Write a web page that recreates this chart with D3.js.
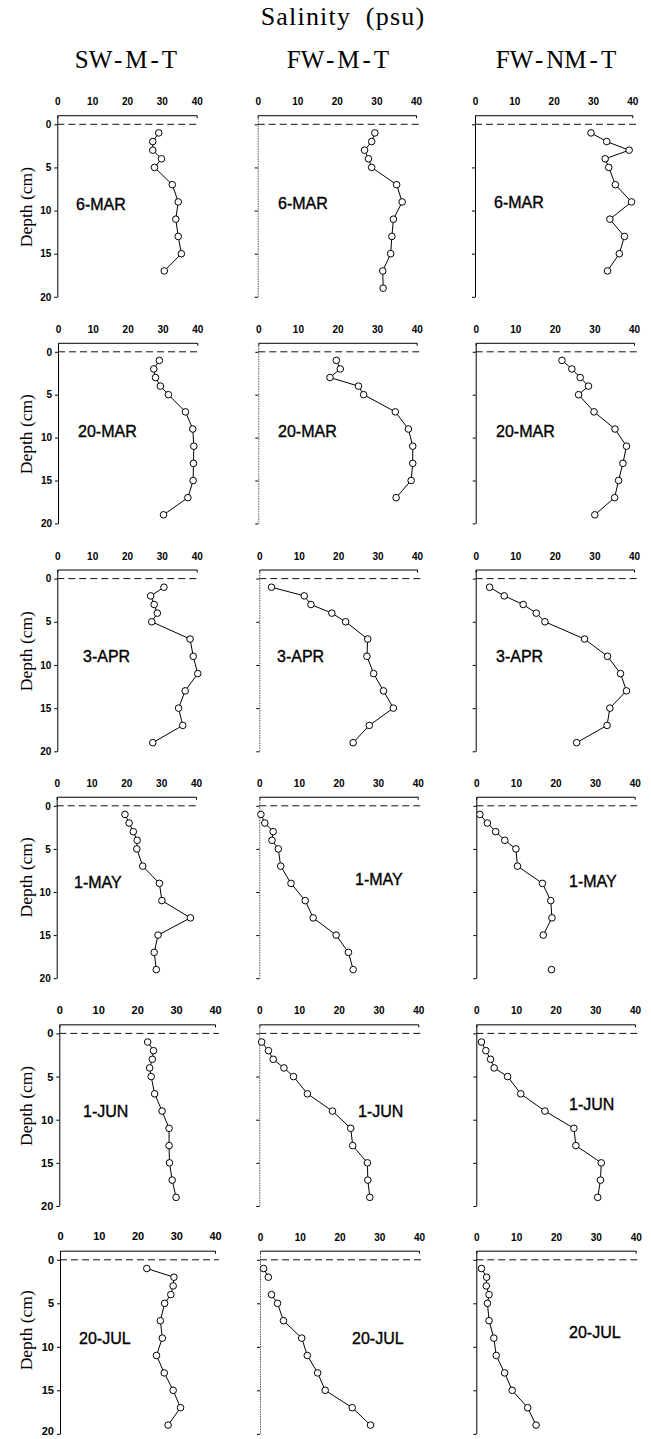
<!DOCTYPE html>
<html>
<head>
<meta charset="utf-8">
<script src="https://cdn.jsdelivr.net/npm/d3@7"></script>
<style>
  html, body { margin: 0; padding: 0; background: #fff; }
  svg { display: block; }
</style>
</head>
<body>
<svg id="chart" width="651" height="1439"></svg>
<script>
// ---- data -------------------------------------------------------------
const sites = ["SW-M-T", "FW-M-T", "FW-NM-T"];
const dates = ["6-MAR", "20-MAR", "3-APR", "1-MAY", "1-JUN", "20-JUL"];
const depths = [1, 2, 3, 4, 5, 7, 9, 11, 13, 15, 17, 19];          // cm
const salinityTicks = [0, 10, 20, 30, 40];                         // psu
const depthTicks = [0, 5, 10, 15, 20];                             // cm

// salinity (psu) at each depth, one profile per sampling date; null = no sample
const salSWMT = [
  [29.1, 27.4, 27.4, 29.9, 27.9, 33.0, 34.7, 34.0, 34.7, 35.6, 30.7, null],
  [29.1, 27.5, 28.0, 29.4, 31.7, 36.6, 38.7, 39.0, 38.9, 38.8, 37.3, 30.3],
  [30.6, 26.8, 27.8, 28.7, 27.1, 38.1, 39.0, 40.3, 36.7, 34.8, 36.0, 27.4],
  [19.6, 20.8, 22.0, 23.1, 23.0, 24.7, 29.5, 30.2, 38.4, 29.1, 28.0, 28.6],
  [22.7, 24.2, 23.9, 23.2, 23.6, 24.5, 26.4, 28.2, 28.2, 28.3, 29.0, 30.0],
  [22.4, 29.4, 29.2, 28.6, 27.0, 25.9, 26.4, 24.9, 26.9, 29.2, 31.1, 27.9]
];
const salFWMT = [
  [29.6, 28.8, 27.0, 28.0, 28.8, 35.1, 36.5, 34.3, 33.9, 33.6, 31.6, 31.7],
  [19.7, 20.7, 18.1, 25.3, 26.6, 34.6, 37.9, 39.0, 39.0, 38.6, 34.8, null],
  [3.1, 11.4, 13.1, 18.4, 21.9, 27.5, 27.3, 29.0, 31.5, 34.0, 27.9, 23.8],
  [0.4, 1.4, 3.5, 3.2, 4.8, 5.4, 8.0, 11.6, 13.6, 19.4, 22.5, 23.7],
  [0.6, 2.3, 3.5, 6.2, 8.6, 12.1, 18.4, 23.0, 23.5, 27.2, 27.3, 27.8],
  [0.9, 2.1, null, 2.9, 4.4, 5.9, 10.5, 11.9, 14.5, 16.4, 23.2, 27.8]
];
const salFWNMT = [
  [29.5, 33.5, 39.2, 33.1, 34.0, 35.7, 39.8, 34.3, 38.0, 36.7, 33.7, null],
  [21.8, 24.3, 26.4, 28.5, 26.0, 29.9, 35.2, 38.1, 37.2, 36.1, 35.1, 30.1],
  [3.5, 7.2, 12.0, 15.3, 17.5, 27.5, 33.3, 36.6, 38.1, 33.9, 33.2, 25.5],
  [0.9, 2.8, 4.9, 7.2, 10.0, 10.4, 16.7, 18.8, 19.1, 16.9, null, 19.0],
  [1.3, 2.4, 3.6, 4.5, 7.9, 11.2, 17.3, 24.6, 25.1, 31.5, 31.3, 30.6],
  [1.3, 2.6, 2.5, 3.2, 2.8, 3.2, 4.4, 5.0, 7.1, 9.0, 12.9, 15.0]
];
const profilesBySite = [salSWMT, salFWMT, salFWNMT];

// ---- layout -----------------------------------------------------------
// horizontal extent of each panel: [x at 0 psu, x at 40 psu], per row and column
const panelX = [
  [[57.3, 196.7], [257.7, 416.0], [475.0, 632.3]],
  [[58.0, 197.3], [258.3, 416.7], [475.7, 634.0]],
  [[57.3, 196.7], [259.3, 417.0], [475.7, 634.0]],
  [[56.7, 196.0], [259.3, 417.7], [476.3, 634.7]],
  [[59.3, 215.0], [259.3, 418.3], [476.3, 635.0]],
  [[60.0, 215.0], [260.0, 419.0], [476.3, 635.7]]
];
// vertical extent of each row: [y at 0 cm, y at 20 cm]
const panelY = [
  [124.3, 296.8],
  [351.8, 523.4],
  [578.6, 751.3],
  [805.8, 978.2],
  [1033.4, 1206.0],
  [1259.8, 1433.8]
];
// date label anchor (left, baseline) per row and column
const dateLabelPos = [
  [[76, 210], [278, 208.5], [494, 208.3]],
  [[78, 436.7], [278, 436.7], [496, 436.7]],
  [[83, 661.7], [277, 661.7], [496, 661.7]],
  [[74, 888], [355, 885], [569, 886.5]],
  [[83, 1117], [358, 1116.7], [569, 1110]],
  [[79, 1344], [352, 1344], [569, 1338]]
];
// depth (cm) at which the rotated axis title is centred, per row
const depthTitleAt = [9.6, 9.6, 8.4, 8.3, 8.4, 8.1];
const topAxisDepth = -1.05;   // the salinity axis sits just above the surface

const svg = d3.select("#chart");
const sansFont = "'Liberation Sans', Arial, sans-serif";
const serifFont = "'Liberation Serif', 'Times New Roman', serif";

// ---- headings ---------------------------------------------------------
svg.append("text")
  .attr("x", 343).attr("y", 25)
  .attr("text-anchor", "middle")
  .style("font-family", serifFont).style("font-size", "26px")
  .style("letter-spacing", "1.2px").style("word-spacing", "7px")
  .text("Salinity (psu)");

// site headings: the dashes get a little room on either side
const siteHeadX = [126, 338, 556];
sites.forEach((site, i) => {
  const t = svg.append("text")
    .attr("x", siteHeadX[i]).attr("y", 68.3)
    .attr("text-anchor", "middle")
    .style("font-family", serifFont).style("font-size", "25px");
  const parts = site.split(/(-)/);
  t.selectAll("tspan")
    .data(parts)
    .join("tspan")
    .attr("dx", (p, k) => (k === 0 ? 0 : 3))
    .text(p => p);
});

// ---- panels -----------------------------------------------------------
dates.forEach((date, r) => {
  sites.forEach((site, c) => {
    const x = d3.scaleLinear().domain([0, 40]).range(panelX[r][c]);
    const y = d3.scaleLinear().domain([0, 20]).range(panelY[r]);
    const yAxisScale = y.copy().domain([topAxisDepth, 20]).range([y(topAxisDepth), y(20)]);
    const bigTicks = (c === 0 && r >= 4);
    const tickFont = bigTicks ? "11px" : "10px";

    const g = svg.append("g").attr("class", "panel");

    // salinity axis along the top
    const xAxisG = g.append("g")
      .attr("transform", `translate(0,${y(topAxisDepth)})`)
      .call(d3.axisTop(x).tickValues(salinityTicks)
        .tickSizeInner(0).tickSizeOuter(-3).tickPadding(bigTicks ? 10.5 : 10));
    xAxisG.select(".domain").attr("stroke", "#000").attr("stroke-width", 1);
    xAxisG.selectAll("text")
      .style("font-family", sansFont).style("font-weight", "bold")
      .style("font-size", tickFont).attr("fill", "#000");

    // depth axis on the left
    const yAxis = d3.axisLeft(yAxisScale).tickValues(depthTicks)
      .tickSizeInner(3).tickSizeOuter(0).tickPadding(3);
    if (c !== 0) yAxis.tickFormat("");
    const yAxisG = g.append("g")
      .attr("transform", `translate(${x(0)},0)`)
      .call(yAxis);
    yAxisG.select(".domain")
      .attr("stroke", c === 1 ? "#555" : "#000")
      .attr("stroke-width", 1)
      .attr("stroke-dasharray", c === 1 ? "1.5,1" : null);
    yAxisG.selectAll(".tick line").attr("stroke", "#000");
    yAxisG.selectAll("text")
      .style("font-family", sansFont).style("font-weight", "bold")
      .style("font-size", tickFont).attr("fill", "#000");
    if (r === dates.length - 1) {
      // keep the bottom "20" inside the page
      yAxisG.selectAll(".tick text").filter(d => d === 20).attr("dy", "0.1em");
    }

    // sediment surface (0 cm)
    g.append("line")
      .attr("x1", x(0)).attr("x2", x(41))
      .attr("y1", y(0)).attr("y2", y(0))
      .attr("stroke", "#111").attr("stroke-width", 1)
      .attr("stroke-dasharray", "7,4");

    // salinity profile
    const pts = depths.map((d, i) => ({ depth: d, sal: profilesBySite[c][r][i] }));
    const line = d3.line()
      .defined(p => p.sal != null)
      .x(p => x(p.sal))
      .y(p => y(p.depth));
    g.append("path")
      .datum(pts)
      .attr("d", line)
      .attr("fill", "none")
      .attr("stroke", "#000")
      .attr("stroke-width", 1);
    g.selectAll("circle")
      .data(pts.filter(p => p.sal != null))
      .join("circle")
      .attr("cx", p => x(p.sal))
      .attr("cy", p => y(p.depth))
      .attr("r", 3.3)
      .attr("fill", "#fff")
      .attr("stroke", "#000")
      .attr("stroke-width", 1);

    // sampling date
    g.append("text")
      .attr("x", dateLabelPos[r][c][0])
      .attr("y", dateLabelPos[r][c][1])
      .style("font-family", sansFont)
      .style("font-size", "16px")
      .attr("fill", "#000")
      .attr("stroke", "#000")
      .attr("stroke-width", 0.35)
      .text(date);

    // depth axis title on the first column
    if (c === 0) {
      const cy = y(depthTitleAt[r]);
      g.append("text")
        .attr("transform", `translate(32,${cy}) rotate(-90)`)
        .attr("text-anchor", "middle")
        .style("font-family", serifFont)
        .style("font-size", "17.5px")
        .attr("fill", "#000")
        .text("Depth (cm)");
    }
  });
});
</script>
</body>
</html>
